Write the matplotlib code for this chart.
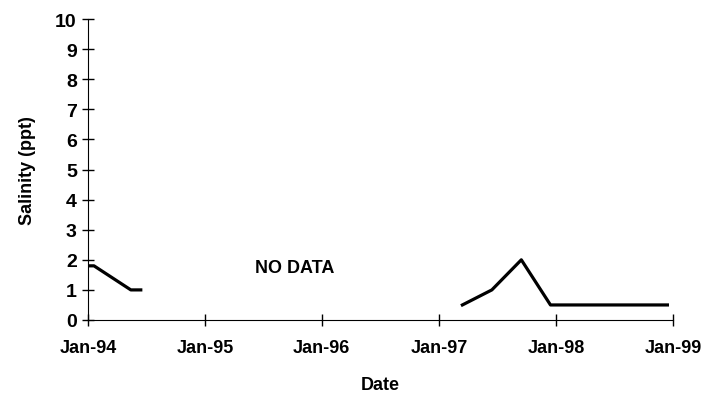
import matplotlib
matplotlib.use("Agg")
import matplotlib.pyplot as plt
import numpy as np
from datetime import datetime

# salinity record, two sampling periods
dates_a = [datetime(1994, 1, 1), datetime(1994, 1, 20), datetime(1994, 5, 15), datetime(1994, 6, 15)]
sal_a = [1.8, 1.8, 1.0, 1.0]

dates_b = [datetime(1997, 3, 15), datetime(1997, 6, 15), datetime(1997, 9, 15),
           datetime(1997, 12, 15), datetime(1998, 12, 15)]
sal_b = [0.5, 1.0, 2.0, 0.5, 0.5]

tick_dates = [datetime(y, 1, 1) for y in range(1994, 2000)]
tick_labels = ["Jan-94", "Jan-95", "Jan-96", "Jan-97", "Jan-98", "Jan-99"]

plt.rcParams['font.family'] = ['Liberation Sans', 'DejaVu Sans']
plt.rcParams['font.weight'] = 'bold'
plt.rcParams['axes.labelweight'] = 'bold'

fig = plt.figure(figsize=(7.09, 4.02), dpi=100)
ax = fig.add_axes([0.124, 0.2015, 0.825, 0.7485])

ax.plot(dates_a, sal_a, color='black', lw=2.3)
ax.plot(dates_b, sal_b, color='black', lw=2.3)

ax.text(datetime(1995, 10, 10), 1.75, "NO DATA", ha='center', va='center', fontsize=13)

ax.set_xlim(tick_dates[0], tick_dates[-1])
ax.set_ylim(0, 10)
ax.set_xticks(tick_dates)
ax.set_xticklabels(tick_labels)
ax.set_yticks(np.arange(0, 11, 1))

ax.spines['top'].set_visible(False)
ax.spines['right'].set_visible(False)
ax.tick_params(direction='inout', length=8, width=1)
ax.tick_params(axis='x', labelsize=13, pad=10)
ax.tick_params(axis='y', labelsize=14, pad=4)

ax.set_xlabel("Date", fontsize=13, labelpad=14)
ax.set_ylabel("Salinity (ppt)", fontsize=13, labelpad=14)

fig.savefig("out.png", dpi=100)
